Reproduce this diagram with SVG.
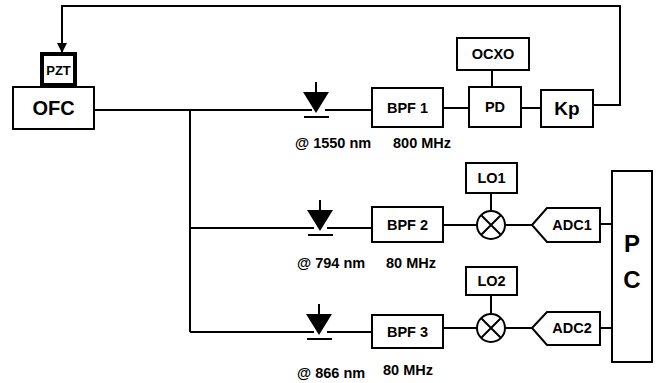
<svg xmlns="http://www.w3.org/2000/svg" width="662" height="383" viewBox="0 0 662 383">
<defs>
<style>
.b{fill:#fff;stroke:#000;stroke-width:2}
.w{fill:none;stroke:#000;stroke-width:2}
text{font-family:"Liberation Sans",Arial,sans-serif;font-weight:bold;fill:#000;text-anchor:middle}
.t{font-size:14.5px}
.l{font-size:14.5px;text-anchor:start}
</style>
<marker id="ah" markerWidth="12" markerHeight="12" refX="6" refY="10" orient="0" markerUnits="userSpaceOnUse" viewBox="0 0 12 12">
<path d="M1,1 L11,1 L6,11 Z" fill="#000"/>
</marker>
<g id="diode">
<path d="M0,-28 V-18" class="w"/>
<path d="M-13,-18 H13 L0,3 Z" fill="#000"/>
<path d="M-12,7 H13" class="w"/>
</g>
</defs>
<g id="connectors">
<path class="w" d="M94,110 H312 M325,110 H372"/>
<path class="w" d="M190,110 V332"/>
<path class="w" d="M190,228 H314 M327,228 H372"/>
<path class="w" d="M190,332 H314 M327,332 H372"/>
<path class="w" d="M443,108 H469 M521,108 H541 M492,70 V87"/>
<path class="w" d="M593,105 H620 V6 H62 V52" marker-end="url(#ah)"/>
<path class="w" d="M443,225 H477 M505,225 H532 M491,193 V211 M600,224 H612"/>
<path class="w" d="M443,328 H477 M505,328 H532 M491,295 V314 M600,328 H612"/>
</g>
<g id="OFC"><rect class="b" x="13" y="87" width="81" height="42"/><text x="53.5" y="115" style="font-size:20px">OFC</text></g>
<g id="PZT"><rect x="42" y="54" width="33" height="31" fill="#fff" stroke="#000" stroke-width="4"/><text x="58.5" y="75" style="font-size:13px">PZT</text></g>
<g id="PD1"><use href="#diode" x="316" y="110"/><text class="l" x="295" y="148">@ 1550 nm</text><text class="l" x="393" y="148">800 MHz</text></g>
<g id="PD2"><use href="#diode" x="320" y="228"/><text class="l" x="297" y="268">@ 794 nm</text><text class="l" x="386" y="268">80 MHz</text></g>
<g id="PD3"><use href="#diode" x="319" y="332"/><text class="l" x="297" y="378">@ 866 nm</text><text class="l" x="383" y="375">80 MHz</text></g>
<g id="BPF1"><rect class="b" x="372" y="88" width="71" height="39"/><text class="t" x="407.5" y="113">BPF 1</text></g>
<g id="BPF2"><rect class="b" x="372" y="207" width="71" height="35"/><text class="t" x="407.5" y="230">BPF 2</text></g>
<g id="BPF3"><rect class="b" x="372" y="315" width="71" height="33"/><text class="t" x="407.5" y="337">BPF 3</text></g>
<g id="OCXO"><rect class="b" x="457" y="38" width="72" height="32"/><text class="t" x="493" y="59">OCXO</text></g>
<g id="PD"><rect class="b" x="469" y="87" width="52" height="40"/><text class="t" x="495" y="112">PD</text></g>
<g id="Kp"><rect class="b" x="541" y="90" width="52" height="37"/><text x="567" y="115" style="font-size:19px">Kp</text></g>
<g id="LO1"><rect class="b" x="466" y="163" width="51" height="30"/><text class="t" x="491.5" y="183">LO1</text></g>
<g id="LO2"><rect class="b" x="466" y="267" width="51" height="28"/><text class="t" x="491.5" y="286">LO2</text></g>
<g id="MIX1"><circle class="b" cx="491" cy="225" r="14"/><path class="w" d="M481,215 L501,235 M501,215 L481,235"/></g>
<g id="MIX2"><circle class="b" cx="491" cy="328" r="14"/><path class="w" d="M481,318 L501,338 M501,318 L481,338"/></g>
<g id="ADC1"><path class="b" d="M532,225 L547,208 H600 V242 H547 Z"/><text class="t" x="572" y="230">ADC1</text></g>
<g id="ADC2"><path class="b" d="M532,328 L547,312 H600 V345 H547 Z"/><text class="t" x="572" y="333">ADC2</text></g>
<g id="PC"><rect class="b" x="612" y="171" width="40" height="191"/><text x="632" y="252" style="font-size:24px">P</text><text x="632" y="288" style="font-size:24px">C</text></g>
</svg>
